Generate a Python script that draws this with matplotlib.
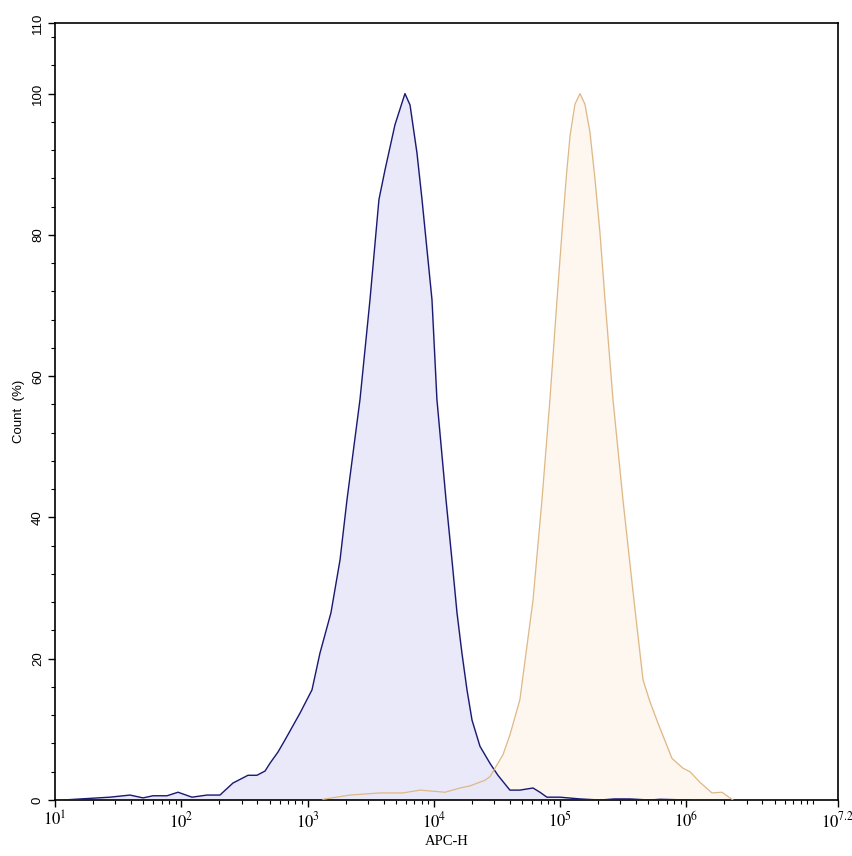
import numpy as np
import matplotlib
matplotlib.use("Agg")
import matplotlib.pyplot as plt
from matplotlib.ticker import FixedLocator, LogLocator, MultipleLocator, NullFormatter

plt.rcParams['mathtext.fontset'] = 'stix'

# blue histogram (log10 of APC-H, count %)
blue_log = [1.063, 1.435, 1.594, 1.697, 1.776, 1.887, 1.974, 2.085, 2.203, 2.306,
            2.409, 2.528, 2.599, 2.663, 2.702, 2.766, 2.821, 2.940, 3.035, 3.098,
            3.185, 3.257, 3.312, 3.415, 3.494, 3.565, 3.613, 3.692, 3.771, 3.811,
            3.866, 3.906, 3.985, 4.024, 4.096, 4.143, 4.183, 4.222, 4.262, 4.302,
            4.365, 4.444, 4.507, 4.602, 4.681, 4.785, 4.840, 4.895, 4.998, 5.157,
            5.315, 5.430, 5.550, 5.710, 5.790, 6.030]
blue_cnt = [0.0, 0.4, 0.7, 0.3, 0.6, 0.6, 1.1, 0.4, 0.7, 0.7,
            2.4, 3.5, 3.5, 4.1, 5.2, 6.8, 8.5, 12.3, 15.6, 20.8,
            26.5, 34.0, 42.5, 56.7, 70.8, 85.0, 89.2, 95.6, 100.0, 98.4,
            91.6, 85.0, 70.8, 56.7, 42.5, 34.0, 26.5, 20.8, 15.6, 11.3,
            7.6, 5.2, 3.5, 1.4, 1.4, 1.7, 1.1, 0.4, 0.4, 0.15,
            0.0, 0.15, 0.15, 0.0, 0.1, 0.0]

# orange histogram
orange_log = [3.122, 3.336, 3.573, 3.755, 3.890, 4.088, 4.207, 4.286, 4.405, 4.444,
              4.507, 4.547, 4.602, 4.681, 4.785, 4.856, 4.919, 4.975, 5.014, 5.050,
              5.078, 5.117, 5.157, 5.196, 5.236, 5.275, 5.315, 5.355, 5.418, 5.497,
              5.584, 5.656, 5.711, 5.774, 5.885, 5.972, 6.028, 6.107, 6.202, 6.281,
              6.368]
orange_cnt = [0.1, 0.7, 1.0, 1.0, 1.4, 1.1, 1.7, 2.0, 2.8, 3.3,
              5.2, 6.4, 9.2, 14.2, 28.3, 42.5, 56.7, 70.8, 80.3, 88.5,
              94.0, 98.5, 100.0, 98.5, 94.5, 88.0, 80.3, 70.8, 56.7, 42.5,
              28.3, 17.0, 13.9, 10.9, 5.9, 4.5, 4.0, 2.5, 1.0, 1.1,
              0.0]

x_major = [1, 2, 3, 4, 5, 6, 7.2]
x_labels = [r'$10^{1}$', r'$10^{2}$', r'$10^{3}$', r'$10^{4}$', r'$10^{5}$', r'$10^{6}$', r'$10^{7.2}$']
y_major = [0, 20, 40, 60, 80, 100, 110]

fig = plt.figure(figsize=(8.53, 8.56), dpi=100)
ax = fig.add_axes([55 / 853, 56 / 856, 783 / 853, 777 / 856])

bx = 10 ** np.array(blue_log)
ox = 10 ** np.array(orange_log)
ax.fill_between(ox, orange_cnt, color='#fef7ef', zorder=1)
ax.fill_between(bx, blue_cnt, color='#e6e6fa', alpha=0.85, zorder=2)
ax.plot(bx, blue_cnt, color='#191970', lw=1.0, zorder=3)
ax.plot(ox, orange_cnt, color='#deb887', lw=0.9, zorder=4)

ax.set_xscale('log')
ax.set_xlim(10, 10 ** 7.2)
ax.set_ylim(0, 110)

ax.xaxis.set_major_locator(FixedLocator([10 ** v for v in x_major]))
ax.set_xticklabels(x_labels, fontsize=12)
ax.xaxis.set_minor_locator(LogLocator(base=10, subs=np.arange(1, 10), numticks=20))
ax.xaxis.set_minor_formatter(NullFormatter())

ax.set_yticks(y_major)
ax.set_yticklabels([str(v) for v in y_major], rotation=90, va='center',
                   fontsize=9.5, family='Liberation Sans')
ax.yaxis.set_minor_locator(MultipleLocator(4))

ax.tick_params(axis='both', which='major', direction='out', length=5, width=1,
               top=False, right=False)
ax.tick_params(axis='both', which='minor', direction='out', length=3, width=0.8,
               top=False, right=False)
ax.tick_params(axis='y', which='major', pad=3)
ax.tick_params(axis='x', which='major', pad=3)

for s in ax.spines.values():
    s.set_linewidth(1.2)

ax.set_xlabel('APC-H', fontsize=10.5, family='Liberation Serif', labelpad=3)
ax.set_ylabel('Count  (%)', fontsize=9.5, family='Liberation Sans', labelpad=5)

fig.savefig('out.png', dpi=100)
